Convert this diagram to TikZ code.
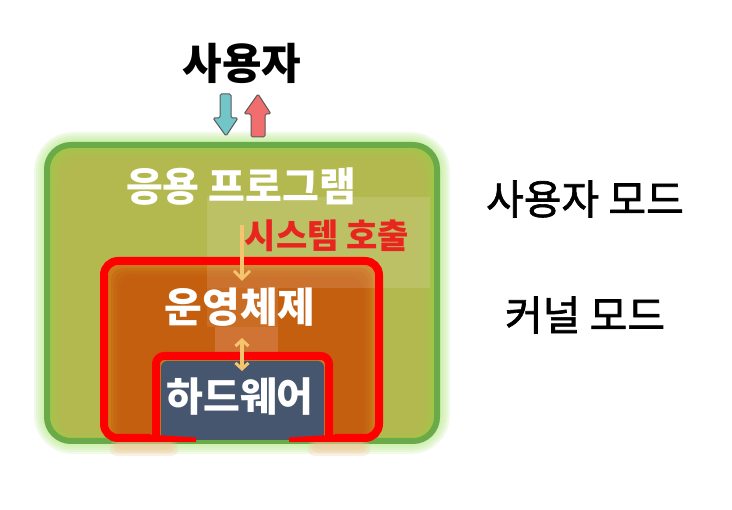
\documentclass[tikz,border=0pt]{standalone}
\usepackage{fontspec}
\setmainfont{Noto Sans CJK KR}
\newfontfamily\krmed{Noto Sans CJK KR}[FakeBold=1.6]
\usetikzlibrary{arrows.meta}
\definecolor{gborder}{RGB}{106,170,72}
\definecolor{gfill}{RGB}{184,182,82}
\definecolor{gedge}{RGB}{160,200,72}
\definecolor{gglow}{RGB}{190,234,150}
\definecolor{osfill}{RGB}{196,90,16}
\definecolor{osedge}{RGB}{208,140,30}
\definecolor{hwfill}{RGB}{70,86,111}
\definecolor{redline}{RGB}{255,0,0}
\definecolor{callred}{RGB}{232,37,31}
\definecolor{arrowor}{RGB}{245,196,110}
\definecolor{teal}{RGB}{114,198,200}
\definecolor{pinkred}{RGB}{240,110,110}
\definecolor{orglow}{RGB}{250,190,150}
\tikzset{
  whitelabel/.style={text=white,font=\bfseries\fontsize{41}{44}\selectfont,inner sep=0pt},
  modelabel/.style={text=black,font=\krmed\fontsize{41}{44}\selectfont,inner sep=0pt},
  redframe/.style={draw=redline,line width=8pt,line join=round},
  callarrow/.style={draw=arrowor,line width=3.5pt},
  bigarrow/.style={draw=black!65,line width=1pt,line join=round,rounded corners=1.5pt},
}
\begin{document}
\begin{tikzpicture}[x=1pt,y=-1pt]
\useasboundingbox (0,0) rectangle (732,510);
% green box glow
\foreach \w in {26,22,18,14,10}
  \draw[gglow,line width=\w pt,rounded corners=26pt,opacity=0.22] (47,145) rectangle (437,441);
% green box fill
\fill[gedge,rounded corners=24pt] (47,145) rectangle (437,441);
\foreach \d in {4,7,10,13,16}
  \fill[gfill,rounded corners=20pt,opacity=0.3] (47+\d,145+\d) rectangle (437-\d,441-\d/2);
% green border
\draw[gborder,line width=6pt,rounded corners=24pt] (47,145) rectangle (437,441);
% orange glow under red bottoms
\foreach \d in {0,3,6}
  \fill[orglow,opacity=0.25,rounded corners=7pt] (110+\d,440) rectangle (178-\d,456-\d);
\foreach \d in {0,3,6}
  \fill[orglow,opacity=0.25,rounded corners=7pt] (308+\d,440) rectangle (370-\d,456-\d);
% OS fill
\fill[osedge,rounded corners=14pt] (104,261) rectangle (379,440);
\foreach \d in {4,7,10,13,16}
  \fill[osfill,rounded corners=12pt,opacity=0.35] (104+\d,261+\d) rectangle (379-\d,440);
% highlight patches
\fill[white,opacity=0.13] (207,197) rectangle (430,288);
\fill[white,opacity=0.09] (207,288) rectangle (278,327);
\fill[pink,opacity=0.22] (215,327) rectangle (278,360);
% hardware fill
\fill[osedge,rounded corners=6pt,opacity=0.7] (156,356) rectangle (329,440);
\fill[hwfill,rounded corners=6pt] (161,361) rectangle (324,440);
% red frames
\draw[redframe,rounded corners=14pt] (150,438) -- (104,438) -- (104,261) -- (379,261) -- (379,438) -- (335,438);
\fill[redline] (140,434) -- (196,437.5) -- (196,442) -- (140,442) -- cycle;
\fill[redline] (345,434) -- (289,437.5) -- (289,442) -- (345,442) -- cycle;
\draw[redframe,rounded corners=8pt] (156,438) -- (156,356) -- (329,356) -- (329,438);
% texts
\node[text=black,font=\bfseries\fontsize{43}{46}\selectfont,inner sep=0pt] (user) at (242,63) {사용자};
\node[text=white,font=\bfseries\fontsize{40}{44}\selectfont,inner sep=0pt] (app) at (241,187) {응용 프로그램};
\node[text=callred,font=\bfseries\fontsize{34}{36}\selectfont,inner sep=0pt] (syscall) at (327,236) {시스템 호출};
\node[whitelabel] (os) at (240,307) {운영체제};
\node[whitelabel,font=\bfseries\fontsize{40}{44}\selectfont] (hw) at (240,397) {하드웨어};
\node[modelabel] (umode) at (585,199) {사용자 모드};
\node[modelabel] (kmode) at (585,315) {커널 모드};
% top arrows (user <-> app)
\filldraw[fill=teal,bigarrow] (220,94) -- (231,94) -- (231,118) -- (238,118) -- (226,136) -- (213,118) -- (220,118) -- cycle;
\filldraw[fill=pinkred,bigarrow] (251,137) -- (251,114) -- (244,114) -- (258,94) -- (271,114) -- (265,114) -- (265,137) -- cycle;
% system call arrows
\coordinate (c1) at (242,225);
\coordinate (c2) at (242,281);
\coordinate (c3) at (242,338);
\coordinate (c4) at (242,371);
\draw[callarrow,-{Straight Barb[length=8pt,width=16pt,line width=3pt]}] (c1) -- (c2);
\draw[callarrow,{Straight Barb[length=6pt,width=13pt,line width=3pt]}-{Straight Barb[length=6pt,width=13pt,line width=3pt]}] (c3) -- (c4);
\end{tikzpicture}
\end{document}
